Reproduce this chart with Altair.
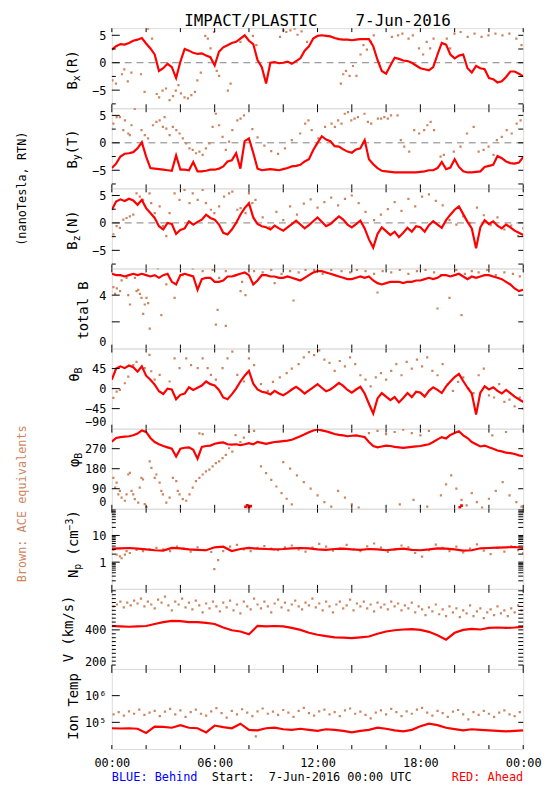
import altair as alt
import pandas as pd

W, H = 416, 81
RED = "#ff0000"
BROWN = "#cd855f"
MONO = "DejaVu Sans Mono"
NB = "\u00a0"

# ---------------- time grids (hours of day) ----------------
Q = [i * 0.25 for i in range(97)]
HH = [i * 0.5 for i in range(49)]
XT = [0, 2, 4, 6, 8, 10, 12, 14, 16, 18, 20, 22, 24]

# ---------------- Ahead (red) series ----------------
bx_red = [2.4, 3.0, 3.4, 3.3, 3.6, 4.0, 4.2, 4.5, 3.5, 2.6, 1.5, -1.5, -1.0, -0.2, -0.8, -2.8,
          0.2, 2.5, 2.2, 1.8, 1.6, 1.7, 1.3, 1.0, -0.5, 2.0, 2.8, 3.2, 3.6, 3.8, 4.4, 5.0,
          4.0, 3.4, 0.5, -0.8, -3.8, 0.0, 0.1, -0.1, 0.0, 0.2, -0.2, 0.3, 0.8, 2.2, 3.0, 4.4,
          4.9, 5.0, 4.9, 4.8, 4.5, 4.3, 4.2, 4.2, 4.1, 4.2, 4.3, 4.3, 4.3, 3.0, 0.5, -1.5,
          -2.0, -0.5, 0.9, 0.7, 0.4, 0.3, 0.0, -0.5, -1.0, -1.2, -1.4, -0.8, 1.5, 3.6, 3.3, 1.5,
          0.8, 1.3, 1.5, -1.0, -1.8, -0.6, -1.0, -1.2, -2.8, -3.0, -3.6, -3.4, -2.6, -1.6, -1.6, -2.0,
          -2.5]
by_red = [-4.6, -3.8, -2.5, -2.0, -1.9, -1.7, -1.0, 0.1, -2.5, -4.6, -4.7, -4.8, -4.9, -5.0, -5.1, -2.3,
          -4.9, -4.9, -5.0, -3.5, -5.2, -5.2, -5.1, -4.9, -4.9, -4.7, -4.3, -3.4, -3.2, -1.9, -4.7, 0.3,
          0.8, -1.8, -4.7, -5.0, -4.9, -4.8, -4.9, -5.0, -4.8, -4.6, -4.3, -4.2, -4.0, -3.4, -3.0, -1.3,
          0.0, 1.2, 0.6, 0.3, -0.6, -0.7, -1.2, -1.6, -1.8, -1.2, -1.0, 0.5, -3.0, -3.9, -4.6, -5.1,
          -5.2, -5.3, -5.4, -5.4, -5.4, -5.4, -5.4, -5.4, -5.3, -5.2, -5.0, -5.0, -4.6, -3.5, -4.8, -4.5,
          -3.0, -4.4, -5.2, -5.4, -5.4, -5.3, -5.2, -4.4, -4.2, -4.0, -2.4, -2.8, -3.4, -3.7, -3.8, -3.6,
          -2.6]
bz_red = [2.4, 3.9, 4.3, 4.0, 4.4, 4.1, 3.3, 4.2, 2.7, 1.8, 0.9, -0.6, -1.2, 0.0, -0.2, -2.0,
          -1.3, -1.0, 0.3, -0.3, 0.2, 0.6, 1.5, 0.9, 0.6, -0.3, -1.8, -2.1, -1.2, 0.0, 1.5, 2.7,
          3.6, 1.0, -0.2, -0.6, -0.8, -1.2, -0.5, -1.0, -1.4, -0.8, -0.2, 0.4, -0.3, -1.0, -0.4, 0.3,
          1.0, 0.2, -0.6, -0.2, 0.5, 1.2, 0.6, -0.3, -0.8, -0.2, 0.4, -1.0, -3.0, -4.5, -2.0, -0.8,
          -1.5, -2.2, -1.6, -2.6, -1.8, -0.9, -1.6, -0.6, -0.8, -1.6, -0.4, 0.3, -0.3, -0.9, 0.5, 1.5,
          2.4, 3.0, 1.6, 0.2, -1.0, -4.6, -0.8, 0.5, -0.2, 0.3, -0.5, -1.0, -0.3, -0.8, -1.4, -1.8,
          -2.2]
bt_red = [5.6, 5.5, 5.5, 5.4, 5.5, 5.6, 5.5, 5.6, 5.5, 5.4, 5.5, 5.3, 5.5, 5.6, 5.0, 4.8,
          5.5, 5.6, 5.5, 5.4, 4.4, 5.2, 5.3, 5.3, 5.0, 5.0, 5.1, 5.4, 5.4, 5.5, 5.6, 5.7,
          5.5, 4.8, 5.1, 5.5, 5.5, 5.4, 5.4, 5.3, 5.3, 5.4, 5.3, 5.2, 5.1, 5.3, 5.5, 5.7,
          5.8, 5.8, 5.7, 5.6, 5.5, 5.4, 5.3, 5.2, 5.2, 5.3, 5.4, 5.3, 5.4, 5.1, 4.9, 4.8,
          4.9, 5.0, 5.0, 5.0, 4.9, 5.0, 5.0, 5.1, 5.1, 5.2, 5.3, 5.2, 5.3, 5.5, 5.5, 5.4,
          5.5, 5.6, 5.4, 5.2, 5.4, 5.3, 5.4, 5.5, 5.5, 5.4, 5.3, 5.2, 5.0, 4.8, 4.5, 4.3,
          4.4]
th_red = [20, 45, 50, 46, 52, 48, 38, 50, 29, 20, 9, -6, -12, 0, -2, -24,
          -14, -11, 3, -3, 2, 7, 16, 10, 7, -3, -20, -24, -13, 0, 16, 29,
          40, 11, -2, -7, -9, -13, -5, -11, -15, -9, -2, 4, -3, -11, -4, 3,
          10, 2, -6, -2, 5, 13, 6, -3, -9, -2, 4, -11, -34, -56, -22, -10,
          -18, -26, -19, -31, -21, -10, -19, -7, -9, -18, -5, 3, -3, -10, 5, 16,
          26, 33, 17, 2, -11, -58, -9, 5, -2, 3, -5, -11, -3, -10, -18, -24,
          -30]
ph_red = [302, 318, 322, 324, 326, 330, 338, 352, 345, 318, 300, 290, 282, 276, 270, 235,
          270, 274, 276, 265, 225, 278, 282, 284, 292, 296, 298, 290, 288, 290, 286, 290,
          295, 290, 300, 296, 292, 296, 300, 302, 304, 306, 310, 318, 326, 335, 344, 352,
          356, 352, 348, 342, 336, 332, 330, 326, 328, 330, 326, 322, 300, 282, 276, 280,
          284, 282, 278, 276, 274, 276, 278, 280, 282, 286, 290, 300, 312, 322, 316, 332,
          340, 348, 330, 318, 300, 290, 280, 284, 276, 270, 262, 258, 252, 250, 246, 240,
          236]
ph_red_wrap = [(7.8, 8), (7.9, 15), (8.0, 5), (8.1, 12), (20.3, 6), (20.4, 14)]
np_red = [3.2, 3.3, 3.4, 3.2, 3.0, 2.8, 2.7, 3.4, 3.3, 3.0, 2.9, 2.8, 3.6, 3.8, 2.6, 3.1,
          3.4, 3.2, 3.1, 3.0, 3.1, 3.3, 3.4, 3.3, 3.0, 2.9, 3.1, 3.2, 3.0, 2.9, 3.1, 3.0,
          2.8, 3.0, 3.2, 2.9, 2.8, 3.0, 3.3, 3.2, 3.0, 2.7, 2.8, 3.3, 3.4, 3.5, 3.6, 3.7, 3.4]
v_red = [420, 418, 416, 418, 420, 430, 440, 446, 445, 440, 440, 436, 430, 412, 398, 392,
         378, 420, 418, 420, 418, 410, 400, 385, 375, 368, 362, 360, 358, 362, 366, 380,
         392, 398, 402, 404, 400, 390, 372, 350, 385, 400, 405, 402, 410, 412, 410, 412, 415]
t_red = [60000, 59000, 60000, 57500, 40000, 69000, 67500, 63000, 79000, 63000, 60000, 42000,
         76000, 66000, 60000, 89000, 52500, 50000, 60000, 63000, 55000, 52500, 57500, 52500,
         48000, 55000, 52500, 48000, 42000, 48000, 52500, 63000, 57500, 50000, 45700, 52500,
         71000, 89000, 79000, 63000, 56000, 50000, 55000, 52500, 50000, 48000, 45700, 48000, 50000]

# ---------------- ACE equivalents (brown) samples: (hour, value) ----------------
bx_brown = [(0.04, -3.2), (0.24, -3.8), (0.59, -2.1), (0.73, -1.2), (0.93, -3.4), (1.14, -1.8),
            (1.70, -2.1), (1.91, -5.3), (2.11, 6.2), (2.35, 4.4), (2.62, -5.7), (2.76, -6.3),
            (2.96, -5.1), (3.16, -4.7), (3.37, -6.8), (3.57, -6.1), (3.73, -5.1), (3.89, -4.1),
            (4.03, -5.6), (4.24, -6.3), (4.44, -6.5), (4.64, -5.9), (4.85, -5.3), (4.99, -3.2),
            (5.19, -1.8), (5.45, 4.9), (5.60, 4.4), (5.76, 2.6), (5.96, 5.6), (6.12, -1.5),
            (6.26, -2.4), (6.77, -5.1), (6.93, -3.8), (7.50, 3.8), (8.23, 4.9), (8.43, 3.2),
            (9.81, 4.7), (10.01, 5.9), (10.18, 5.6), (10.42, 5.9), (10.66, 6.2), (10.83, 5.1),
            (11.07, 5.7), (11.39, 3.8), (13.36, -3.8), (13.50, -2.1), (13.66, -1.5), (13.87, -2.4),
            (14.07, -0.6), (14.27, -2.4), (14.51, 1.5), (14.68, 3.2), (14.88, 2.4), (15.12, 3.8),
            (15.28, 5.0), (16.34, 4.7), (16.70, 5.0), (16.95, 5.3), (17.31, 4.4), (17.56, 5.0),
            (17.92, 2.6), (18.16, 1.5), (18.37, 3.8), (18.57, 2.6), (18.77, 4.4), (19.54, 4.4),
            (19.74, 2.6), (19.99, 5.3), (20.35, 5.6), (20.76, 4.7), (21.16, 5.3), (21.57, 4.7),
            (21.97, 5.0), (22.38, 5.3), (22.79, 5.0), (23.19, 5.3), (23.60, 4.4), (23.90, 3.2)]
by_brown = [(0.09, 3.5), (0.28, 4.7), (0.47, 4.7), (0.76, 4.1), (0.67, 2.3), (0.96, 1.7),
            (1.05, 1.4), (1.34, 6.2), (1.15, 3.2), (1.73, 2.3), (1.92, 1.4), (2.11, 0.8),
            (2.40, 3.2), (2.60, 3.8), (2.79, 4.1), (2.98, 2.9), (3.08, 4.7), (3.18, 2.6),
            (3.37, 1.4), (3.56, 2.9), (3.76, 2.3), (3.95, 1.7), (4.14, 0.8), (4.34, -0.1),
            (4.53, -1.0), (4.72, -1.3), (4.91, -1.9), (5.11, -1.6), (5.30, -2.2), (5.49, -1.0),
            (5.69, -0.1), (5.88, 2.9), (6.07, 5.3), (6.26, 3.2), (6.46, 1.1), (6.65, -1.3),
            (6.84, 0.2), (7.03, 2.3), (7.32, 4.1), (7.51, 4.4), (7.71, 5.0), (8.2, 2.5),
            (8.5, 1.0), (8.9, -0.5), (9.3, -1.5), (9.7, -2.0), (10.1, -1.0), (10.5, 0.5),
            (10.99, 1.7), (11.28, 3.5), (11.47, 4.1), (11.66, 2.3), (12.05, 0.8), (12.44, 2.9),
            (12.82, 3.5), (13.01, 2.9), (13.20, 4.1), (13.40, 3.5), (13.59, 5.3), (13.78, 5.6),
            (13.97, 4.1), (14.16, 4.4), (14.36, 4.7), (14.74, 5.3), (14.94, 3.8), (15.13, 3.5),
            (15.52, 4.4), (15.71, 4.4), (15.90, 4.7), (16.10, 4.4), (16.29, 5.0), (16.67, 5.0),
            (16.86, 0.5), (17.06, -0.7), (17.35, -1.6), (17.64, 2.3), (17.93, 1.7), (18.22, 2.3),
            (18.41, 3.2), (18.60, 3.8), (18.80, 2.3), (19.18, -2.5), (19.37, -2.2), (19.95, -1.6),
            (20.34, -0.7), (20.72, 1.7), (21.11, 2.9), (21.40, -1.6), (21.69, -1.3), (21.98, -0.7),
            (22.27, -2.2), (22.46, 0.5), (22.75, 1.1), (23.04, 2.3), (23.33, 1.7), (23.62, 3.5),
            (23.85, 4.1)]
bz_brown = [(0.09, -2.1), (0.28, -0.6), (0.47, -0.9), (0.67, 0.6), (0.86, 0.9), (1.05, 1.2),
            (1.25, 1.5), (1.44, 5.4), (1.63, 4.8), (1.82, 4.2), (2.20, 5.4), (2.30, 3.6),
            (2.50, 1.8), (2.79, 3.0), (2.98, -0.6), (3.18, -2.4), (3.37, 1.8), (3.66, 5.4),
            (3.95, 4.2), (4.24, 6.0), (4.53, 3.6), (4.72, 5.4), (5.01, 4.2), (5.30, 6.0),
            (5.49, 3.6), (5.78, 2.4), (5.98, 1.8), (6.26, 3.0), (6.55, 4.8), (6.84, 5.4),
            (7.03, 5.7), (7.32, 2.4), (7.51, 2.7), (7.80, 1.8), (8.00, 5.4), (8.20, 3.6),
            (8.38, 4.2), (8.8, 1.0), (9.2, -0.8), (9.6, 2.0), (10.0, 0.5), (10.4, 3.0),
            (10.8, 1.5), (11.2, 3.5), (11.6, 4.3), (12.0, 2.8), (12.4, 3.8), (12.8, 4.6),
            (13.2, 3.2), (13.6, 4.4), (14.0, 5.0), (14.4, 3.6), (14.8, 2.0), (15.3, 0.5),
            (15.7, 1.5), (16.1, 2.5), (16.5, 3.8), (16.9, 2.2), (17.3, 4.4), (17.7, 3.0),
            (18.1, 4.8), (18.5, 5.2), (18.9, 4.0), (19.3, 3.2), (19.7, 0.5), (20.1, -0.3),
            (20.5, 1.2), (20.9, 0.0), (21.3, 2.8), (21.7, 1.4), (22.1, -0.4), (22.5, 1.0),
            (22.9, -1.2), (23.3, -0.5), (23.7, -2.4), (24.0, -1.0)]
bt_brown = [(0.09, 4.6), (0.19, 4.1), (0.29, 4.5), (0.48, 4.3), (0.57, 5.1), (0.86, 5.3),
            (0.96, 4.0), (1.06, 3.3), (1.35, 5.3), (1.44, 4.3), (1.54, 4.4), (1.64, 4.1),
            (1.73, 3.8), (1.83, 2.6), (1.92, 3.3), (2.02, 3.8), (2.12, 3.4), (2.21, 1.5),
            (2.69, 6.0), (2.89, 2.5), (3.18, 4.8), (3.66, 3.8), (4.14, 5.5), (4.72, 6.0),
            (5.30, 5.8), (5.88, 5.9), (6.07, 1.8), (6.17, 2.9), (6.26, 5.3), (6.65, 5.8),
            (6.65, 1.7), (7.22, 5.5), (7.51, 4.3), (7.60, 5.0), (7.80, 4.0), (8.00, 6.0),
            (8.30, 5.8), (8.8, 5.7), (9.3, 5.9), (9.5, 4.9), (9.9, 5.6), (10.4, 5.8),
            (10.6, 3.6), (10.9, 5.7), (11.3, 5.9), (11.8, 5.9), (12.3, 5.6), (12.8, 5.9),
            (13.4, 5.8), (13.9, 5.7), (14.3, 5.9), (14.8, 5.8), (15.3, 5.6), (15.5, 4.2),
            (15.8, 5.8), (16.3, 5.7), (16.8, 5.9), (17.3, 5.6), (17.8, 5.8), (18.3, 5.9),
            (18.8, 5.7), (19.0, 3.0), (19.2, 5.5), (19.7, 3.8), (20.1, 5.9), (20.4, 2.5),
            (20.6, 5.6), (21.0, 5.8), (21.4, 5.7), (21.9, 5.9), (22.4, 5.5), (22.9, 5.7),
            (23.4, 5.6), (23.8, 5.4)]
th_brown = [(0.09, -21), (0.28, -7), (0.47, -3), (0.76, 12), (0.96, 27), (1.25, 53), (1.44, 60),
            (1.92, 46), (2.20, 76), (2.30, 39), (2.50, 20), (2.79, 31), (3.37, 16), (3.66, 68),
            (3.95, 46), (4.34, 68), (4.62, 53), (5.01, 46), (5.30, 68), (5.59, 46), (5.78, 31),
            (6.07, 20), (6.46, 46), (6.75, 68), (7.03, 83), (7.32, 31), (7.71, 16), (8.00, 68),
            (8.30, 53), (8.7, 10), (9.1, -5), (9.4, 15), (9.8, 25), (10.2, 35), (10.5, 45),
            (10.9, 55), (11.2, 70), (11.5, 82), (11.8, 75), (12.1, 86), (12.4, 65), (12.7, 58),
            (13.0, 40), (13.3, 62), (13.6, 50), (13.9, 70), (14.2, 55), (14.5, 30), (14.8, 20),
            (15.1, 5), (15.4, 25), (15.7, 35), (16.0, 20), (16.3, 40), (16.6, 55), (16.9, 30),
            (17.2, 60), (17.5, 45), (17.8, 65), (18.1, 50), (18.4, 70), (18.7, 40), (19.0, 30),
            (19.3, 55), (19.6, 10), (19.9, -5), (20.2, 15), (20.5, 25), (20.8, 0), (21.1, -10),
            (21.4, 30), (21.7, 45), (22.0, -15), (22.3, -20), (22.6, 10), (22.9, -30),
            (23.2, -25), (23.5, -40), (23.8, -20), (24.0, -45)]
ph_brown = [(0.09, 139), (0.19, 95), (0.28, 117), (0.38, 65), (0.47, 80), (0.57, 50), (0.76, 36),
            (0.86, 65), (0.96, 154), (1.05, 161), (1.15, 80), (1.25, 65), (1.34, 43), (1.54, 28),
            (1.63, 95), (1.73, 139), (1.82, 132), (1.92, 21), (2.02, 7), (2.21, 213), (2.31, 184),
            (2.50, 139), (2.60, 154), (2.79, 117), (2.89, 80), (2.98, 65), (3.18, 28), (3.37, 50),
            (3.56, 139), (3.76, 124), (3.85, 80), (3.95, 65), (4.14, 43), (4.34, 36), (4.53, 65),
            (4.72, 95), (4.91, 124), (5.11, 139), (5.30, 154), (5.49, 168), (5.69, 176),
            (5.88, 190), (6.07, 205), (6.26, 213), (6.46, 228), (6.65, 242), (6.84, 272),
            (7.03, 257), (7.22, 331), (5.11, 339), (5.30, 335), (7.5, 300), (7.7, 320),
            (8.0, 345), (8.3, 350), (8.7, 190), (9.0, 160), (9.3, 130), (9.6, 100), (9.9, 70),
            (10.2, 45), (10.5, 20), (10.0, 210), (10.4, 180), (10.8, 150), (11.2, 120),
            (11.6, 90), (12.0, 60), (12.4, 30), (12.8, 10), (13.2, 80), (13.6, 50), (14.0, 20),
            (14.4, 5), (15.0, 340), (15.5, 350), (16.0, 335), (16.5, 345), (17.0, 355),
            (17.5, 340), (18.0, 330), (18.5, 350), (16.8, 20), (17.6, 40), (18.4, 10),
            (19.2, 60), (19.5, 110), (19.8, 150), (20.1, 90), (20.4, 40), (20.7, 15), (21.0, 70),
            (21.3, 30), (21.6, 5), (22.0, 45), (22.4, 80), (22.8, 120), (23.2, 60), (23.6, 30),
            (23.9, 10), (22.2, 330), (23.0, 345)]
np_brown = [(0.09, 2.9), (0.28, 1.9), (0.47, 1.65), (0.57, 1.4), (0.76, 1.9), (0.86, 2.6),
            (1.05, 2.2), (1.44, 2.9), (1.82, 2.6), (2.2, 3.0), (2.6, 3.4), (3.0, 3.0), (3.4, 2.6),
            (3.8, 3.8), (4.2, 3.2), (4.6, 2.5), (5.0, 3.6), (5.4, 2.8), (5.8, 2.4), (5.98, 0.55),
            (6.2, 1.2), (6.5, 2.6), (6.9, 3.8), (7.3, 4.4), (7.7, 3.0), (8.1, 2.6), (8.5, 3.4),
            (8.9, 4.0), (9.3, 3.2), (9.7, 2.8), (10.1, 3.6), (10.5, 4.2), (10.9, 3.0),
            (11.3, 2.5), (11.7, 3.5), (12.1, 4.8), (12.5, 3.8), (12.9, 2.7), (13.3, 3.3),
            (13.7, 4.4), (14.1, 3.1), (14.5, 2.6), (14.9, 3.9), (15.3, 5.0), (15.7, 3.5),
            (16.1, 2.4), (16.5, 3.0), (16.9, 4.2), (17.3, 3.6), (17.7, 2.2), (18.1, 1.6),
            (18.5, 2.8), (18.9, 4.5), (19.3, 3.4), (19.7, 2.6), (20.1, 3.8), (20.5, 2.3),
            (20.9, 3.2), (21.3, 4.6), (21.7, 2.7), (22.1, 2.0), (22.5, 3.4), (22.9, 2.5),
            (23.3, 3.9), (23.7, 2.8), (24.0, 2.2)]
v_brown = [(0.1, 520), (0.3, 530), (0.5, 545), (0.7, 515), (0.9, 540), (1.1, 525), (1.3, 550),
           (1.5, 535), (1.7, 560), (1.9, 520), (2.1, 545), (2.3, 530), (2.5, 510), (2.7, 555),
           (2.9, 540), (3.1, 570), (3.3, 525), (3.5, 500), (3.7, 545), (3.9, 530), (4.1, 560),
           (4.3, 515), (4.5, 540), (4.7, 505), (4.9, 550), (5.1, 525), (5.3, 490), (5.5, 535),
           (5.7, 510), (5.9, 545), (6.1, 520), (6.3, 495), (6.5, 540), (6.7, 515), (6.9, 550),
           (7.1, 500), (7.3, 530), (7.5, 485), (7.7, 545), (7.9, 520), (8.1, 505), (8.3, 560),
           (8.5, 530), (8.7, 510), (8.9, 545), (9.1, 520), (9.3, 490), (9.5, 535), (9.7, 555),
           (9.9, 515), (10.1, 540), (10.3, 500), (10.5, 530), (10.7, 550), (10.9, 520),
           (11.1, 505), (11.3, 540), (11.5, 525), (11.7, 560), (11.9, 515), (12.1, 535),
           (12.3, 500), (12.5, 545), (12.7, 520), (12.9, 490), (13.1, 530), (13.3, 545),
           (13.5, 510), (13.7, 525), (13.9, 555), (14.1, 500), (14.3, 535), (14.5, 520),
           (14.7, 545), (14.9, 510), (15.1, 530), (15.3, 495), (15.5, 540), (15.7, 515),
           (15.9, 530), (16.1, 505), (16.3, 545), (16.5, 520), (16.7, 535), (16.9, 500),
           (17.1, 525), (17.3, 510), (17.5, 540), (17.7, 490), (17.9, 520), (18.1, 505),
           (18.3, 475), (18.5, 515), (18.7, 495), (18.9, 530), (19.1, 480), (19.3, 505),
           (19.5, 470), (19.7, 520), (19.9, 490), (20.1, 510), (20.3, 465), (20.5, 500),
           (20.7, 485), (20.9, 525), (21.1, 470), (21.3, 495), (21.5, 510), (21.7, 460),
           (21.9, 490), (22.1, 505), (22.3, 475), (22.5, 520), (22.7, 485), (22.9, 500),
           (23.1, 470), (23.3, 510), (23.5, 490), (23.7, 525), (23.9, 500)]
t_brown = [(0.1, 200000), (0.4, 240000), (0.7, 180000), (1.0, 260000), (1.3, 210000),
           (1.6, 300000), (1.9, 190000), (2.2, 230000), (2.5, 270000), (2.8, 170000),
           (3.1, 250000), (3.4, 320000), (3.7, 200000), (4.0, 280000), (4.3, 160000),
           (4.6, 240000), (4.9, 300000), (5.2, 210000), (5.5, 180000), (5.8, 260000),
           (6.1, 340000), (6.4, 220000), (6.7, 150000), (7.0, 270000), (7.3, 200000),
           (7.6, 310000), (7.9, 230000), (8.2, 170000), (8.4, 30000), (8.5, 260000),
           (8.8, 330000), (9.1, 210000), (9.4, 250000), (9.7, 190000), (10.0, 290000),
           (10.3, 230000), (10.6, 160000), (10.9, 270000), (11.2, 350000), (11.5, 220000),
           (11.8, 180000), (12.1, 260000), (12.4, 300000), (12.7, 200000), (13.0, 240000),
           (13.3, 170000), (13.6, 280000), (13.9, 330000), (14.2, 210000), (14.5, 250000),
           (14.8, 190000), (15.1, 140000), (15.4, 230000), (15.7, 280000), (16.0, 200000),
           (16.3, 320000), (16.6, 240000), (16.9, 170000), (17.2, 260000), (17.5, 210000),
           (17.8, 300000), (18.1, 350000), (18.4, 230000), (18.7, 180000), (19.0, 270000),
           (19.3, 220000), (19.6, 160000), (19.9, 250000), (20.2, 290000), (20.5, 200000),
           (20.8, 130000), (21.1, 240000), (21.4, 190000), (21.7, 270000), (22.0, 210000),
           (22.3, 160000), (22.6, 230000), (22.9, 280000), (23.2, 200000), (23.5, 170000),
           (23.8, 240000)]

# ---------------- helpers ----------------
ONE = pd.DataFrame({"a": [0]})
XSCALE = alt.Scale(domain=[0, 24], nice=False, zero=False)
XAXIS = alt.Axis(values=[0, 6, 12, 18, 24], ticks=False, domain=False, grid=False, title=None,
                 labelExpr="datum.value == 24 ? '00:00' : (datum.value < 10 ? '0' : '') + datum.value + ':00'",
                 labelFont=MONO, labelFontSize=12, labelColor="black", labelPadding=9,
                 labelFlush=False)


def df_series(ts, vs):
    return pd.DataFrame({"t": ts, "v": vs})


def df_pairs(pairs):
    return pd.DataFrame({"t": [p[0] for p in pairs], "v": [p[1] for p in pairs]})


def rtext(s, x, y, size=14, align="left", color="black"):
    return alt.Chart(ONE).mark_text(text=s, angle=270, align=align, baseline="middle",
                                    font=MONO, fontSize=size, color=color).encode(
        x=alt.value(x), y=alt.value(y))


def htext(s, x, y, size=12, align="left", color="black", baseline="alphabetic"):
    return alt.Chart(ONE).mark_text(text=s, align=align, baseline=baseline,
                                    font=MONO, fontSize=size, color=color).encode(
        x=alt.value(x), y=alt.value(y))


def panel(red, brown, ydom, labels, lmajor, lminor, rticks, log=False, zero=False,
          label_expr=None, texts=(), bottom=False, red_extra=None, fmt=None):
    if log:
        ysc = alt.Scale(type="log", domain=ydom, nice=False)
    else:
        ysc = alt.Scale(domain=ydom, nice=False, zero=False)
    akw = dict(values=labels, ticks=False, domain=False, grid=False, title=None,
               labelFont=MONO, labelFontSize=12, labelColor="black", labelPadding=6,
               labelFlush=True)
    if label_expr:
        akw["labelExpr"] = label_expr
    if fmt:
        akw["format"] = fmt
    yaxis = alt.Axis(**akw)
    xax = XAXIS if bottom else None

    def X():
        return alt.X("t:Q", scale=XSCALE, axis=xax)

    def Y():
        return alt.Y("v:Q", scale=ysc, axis=yaxis)

    layers = []
    if zero:
        layers.append(alt.Chart(pd.DataFrame({"v": [0]})).mark_rule(
            color="#808080", strokeDash=[7, 5], strokeWidth=1).encode(y=Y()))
    layers.append(alt.Chart(df_pairs(brown)).mark_square(
        size=5, color=BROWN, opacity=1, clip=True).encode(x=X(), y=Y()))
    layers.append(alt.Chart(df_series(red[0], red[1])).mark_line(
        color=RED, strokeWidth=2.2, clip=True).encode(x=X(), y=Y()))
    if red_extra:
        layers.append(alt.Chart(df_pairs(red_extra)).mark_square(
            size=8, color=RED, opacity=1, clip=True).encode(x=X(), y=Y()))
    # inward y ticks
    if lmajor:
        layers.append(alt.Chart(pd.DataFrame({"v": lmajor})).mark_rule(color="black").encode(
            y=Y(), x=alt.value(0), x2=alt.value(8)))
    if lminor:
        layers.append(alt.Chart(pd.DataFrame({"v": lminor})).mark_rule(color="black").encode(
            y=Y(), x=alt.value(0), x2=alt.value(4)))
    if rticks:
        layers.append(alt.Chart(pd.DataFrame({"v": rticks})).mark_rule(color="black").encode(
            y=Y(), x=alt.value(W - 5), x2=alt.value(W)))
    # inward x ticks
    xt = pd.DataFrame({"t": XT})
    layers.append(alt.Chart(xt).mark_rule(color="black").encode(
        x=X(), y=alt.value(0), y2=alt.value(4)))
    layers.append(alt.Chart(xt).mark_rule(color="black").encode(
        x=X(), y=alt.value(H - 4), y2=alt.value(H)))
    layers.extend(texts)
    return alt.layer(*layers).properties(width=W, height=H)


BDOM = [-8.3, 6.3]
BLAB = [-5, 0, 5]
BMIN = [-7.5, -2.5, 2.5]
BR = [-7.5, -5, -2.5, 0, 2.5, 5]

p1 = panel((Q, bx_red), bx_brown, BDOM, BLAB, BLAB, BMIN, BR, zero=True, texts=[
    rtext("B", -39, 62), rtext("x", -35, 53.6, 10), rtext("(R)", -39, 47.6),
    htext("IMPACT/PLASTIC" + NB * 4 + "7-Jun-2016", W / 2, -15, size=16, align="center",
          baseline="top"),
])
p2 = panel((Q, by_red), by_brown, BDOM, BLAB, BLAB, BMIN, BR, zero=True, texts=[
    rtext("B", -39, 61), rtext("y", -35, 52.6, 10), rtext("(T)", -39, 46.6),
])
p3 = panel((Q, bz_red), bz_brown, BDOM, BLAB, BLAB, BMIN, BR, zero=True, texts=[
    rtext("B", -39, 62), rtext("z", -35, 53.6, 10), rtext("(N)", -39, 47.6),
    rtext("(nanoTesla," + NB + "RTN)", -90.8, 0.3, size=12, align="center"),
])
p4 = panel((Q, bt_red), bt_brown, [0, 6], [0, 4], [2, 4], [], [2, 4], texts=[
    rtext("total" + NB + "B", -28, 42.5, align="center"),
])
p5 = panel((Q, th_red), th_brown, [-90, 90], [-90, -45, 0, 45], [-45, 0, 45], [], [-45, 0, 45],
           texts=[rtext("θ", -37, 33.6), rtext("B", -33, 25.2, 10)])
p6 = panel((Q, ph_red), ph_brown, [0, 360], [0, 90, 180, 270], [90, 180, 270], [], [90, 180, 270],
           red_extra=ph_red_wrap,
           texts=[rtext("φ", -37, 38.9), rtext("B", -33, 30.5, 10),
                  rtext("Brown:" + NB + "ACE" + NB + "equivalents", -90.8, 76, size=12,
                        align="center", color=BROWN)])
NP_MINOR = [0.2, 0.3, 0.4, 0.5, 0.6, 0.7, 0.8, 0.9, 2, 3, 4, 5, 6, 7, 8, 9,
            20, 30, 40, 50, 60, 70, 80, 90]
p7 = panel((HH, np_red), np_brown, [0.1, 100], [1, 10], [1, 10], NP_MINOR, [1, 10] + NP_MINOR,
           log=True, fmt="~g",
           texts=[rtext("N", -38.5, 70), rtext("p", -34.5, 61.6, 10), rtext("(cm", -38.5, 47.2),
                  rtext("−3", -42.5, 21.9, 10), rtext(")", -38.5, 9.9)])
V_MINOR = [220, 240, 260, 280, 300, 320, 340, 360, 380, 420, 440, 460, 480, 500, 520, 540,
           560, 580, 600]
p8 = panel((HH, v_red), v_brown, [200, 610], [200, 400], [400], V_MINOR, [400] + V_MINOR,
           texts=[rtext("V" + NB + "(km/s)", -43.5, 40.5, align="center")])
p9 = panel((HH, t_red), t_brown, [1e4, 1e7], [1e5, 1e6], [1e5, 1e6], [], [1e5, 1e6], log=True,
           label_expr="datum.value >= 500000 ? '10⁶' : '10⁵'", bottom=True,
           texts=[rtext("Ion" + NB + "Temp", -38.5, 38, align="center"),
                  htext("BLUE:" + NB + "Behind", 0, H + 32, color="#0000ff"),
                  htext("Start:" + NB * 2 + "7-Jun-2016" + NB + "00:00" + NB + "UTC", 101, H + 32),
                  htext("RED:" + NB + "Ahead", W, H + 32, align="right", color=RED)])

chart = alt.vconcat(p1, p2, p3, p4, p5, p6, p7, p8, p9, spacing=0, bounds="flush").properties(
    padding={"left": 7, "top": 0, "right": 0, "bottom": 0}
).configure_view(stroke="black", strokeWidth=1).configure(background="white")

chart.save("out.html", embed_options={"renderer": "svg", "actions": False})
